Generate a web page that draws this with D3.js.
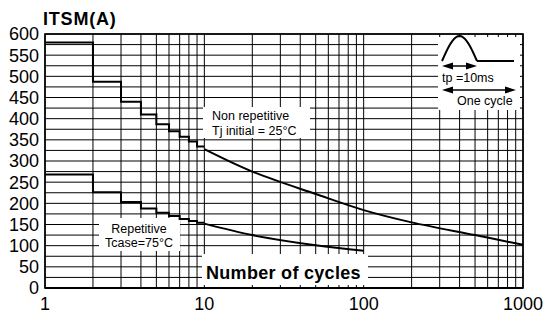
<!DOCTYPE html>
<html>
<head>
<meta charset="utf-8">
<title>ITSM vs number of cycles</title>
<style>
  body { margin: 0; background: #fff; }
  svg { display: block; font-family: "Liberation Sans", Arial, Helvetica, sans-serif; }
  .grid line { stroke: #000; stroke-width: 1; }
  .frame { fill: none; stroke: #000; stroke-width: 1.6; }
  .curve { fill: none; stroke: #000; stroke-width: 2; }
  .tick-label { font-size: 18px; fill: #000; }
  .note { font-size: 12.5px; fill: #000; }
</style>
</head>
<body>
<div id="chart"></div>
<script src="https://d3js.org/d3.v7.min.js"></script>
<script>
  // values
  var stepCycles  = [1, 2, 3, 4, 5, 6, 7, 8, 9, 10];
  var nonRepSteps = [580, 487, 440, 410, 387, 370, 357, 346, 334, 334];
  var repSteps    = [268, 226, 203, 188, 178, 170, 163, 158, 154, 154];

  var nonRepCycles = [10, 20, 50, 100, 200, 500, 1000];
  var nonRepCurve  = [328, 275, 222, 184, 155, 125, 102];
  var repCycles    = [10, 20, 50, 100];
  var repCurve     = [152, 125, 101, 88];

  var yTicks  = [0, 50, 100, 150, 200, 250, 300, 350, 400, 450, 500, 550, 600];
  var yGrid   = [0, 25, 50, 75, 100, 125, 150, 175, 200, 225, 250, 275, 300, 325,
                 350, 375, 400, 425, 450, 475, 500, 525, 550, 575, 600];
  var xTicks  = [1, 10, 100, 1000];
  var xGrid   = [1, 2, 3, 4, 5, 6, 7, 8, 9, 10, 20, 30, 40, 50, 60, 70, 80, 90,
                 100, 200, 300, 400, 500, 600, 700, 800, 900, 1000];

  var width = 544, height = 316;
  var margin = {top: 34, right: 21, bottom: 28, left: 45};
  var w = width - margin.left - margin.right,
      h = height - margin.top - margin.bottom;

  var svg = d3.select("#chart").append("svg")
      .attr("width", width).attr("height", height);

  var x = d3.scaleLog().domain([1, 1000]).range([margin.left, margin.left + w]);
  var y = d3.scaleLinear().domain([0, 600]).range([margin.top + h, margin.top]);

  //  grid
  var grid = svg.append("g").attr("class", "grid");
  grid.selectAll("line.h").data(yGrid).enter().append("line").attr("class", "h")
      .attr("x1", x(1)).attr("x2", x(1000))
      .attr("y1", function (d) { return y(d); }).attr("y2", function (d) { return y(d); });
  grid.selectAll("line.v").data(xGrid).enter().append("line").attr("class", "v")
      .attr("y1", y(0)).attr("y2", y(600))
      .attr("x1", function (d) { return x(d); }).attr("x2", function (d) { return x(d); });

  //  white label boxes (stop a bit short of the frame, so grid stubs show)
  function box(x0, y0, x1, y1) {
    svg.append("rect").attr("x", x0).attr("y", y0)
       .attr("width", x1 - x0).attr("height", y1 - y0).attr("fill", "#fff");
  }
  box(203, 107, 310, 138);
  box(99, 218, 180, 251);
  box(202, 254, 368, 285);
  box(438, 37, 520, 110);

  //  curves
  var stepLine = d3.line()
      .x(function (d) { return x(d[0]); })
      .y(function (d) { return y(d[1]); })
      .curve(d3.curveStepAfter);
  var smoothLine = d3.line()
      .x(function (d) { return x(d[0]); })
      .y(function (d) { return y(d[1]); })
      .curve(d3.curveCatmullRom.alpha(0.5));

  svg.append("path").attr("class", "curve").attr("d", stepLine(d3.zip(stepCycles, nonRepSteps)));
  svg.append("path").attr("class", "curve").attr("d", stepLine(d3.zip(stepCycles, repSteps)));
  svg.append("path").attr("class", "curve").attr("d", smoothLine(d3.zip(nonRepCycles, nonRepCurve)));
  svg.append("path").attr("class", "curve").attr("d", smoothLine(d3.zip(repCycles, repCurve)));

  //  frame
  svg.append("rect").attr("class", "frame")
      .attr("x", x(1)).attr("y", y(600))
      .attr("width", x(1000) - x(1)).attr("height", y(0) - y(600));
  svg.append("line").attr("x1", x(1)).attr("x2", x(1000))
      .attr("y1", y(0)).attr("y2", y(0))
      .attr("stroke", "#000").attr("stroke-width", 2.2);

  //  tick labels
  svg.selectAll("text.yl").data(yTicks).enter().append("text")
      .attr("class", "tick-label yl")
      .attr("x", 39).attr("y", function (d) { return y(d); })
      .attr("dy", "0.36em").attr("text-anchor", "end")
      .text(function (d) { return d; });
  svg.selectAll("text.xl").data(xTicks).enter().append("text")
      .attr("class", "tick-label xl")
      .attr("x", function (d) { return x(d); }).attr("y", 310)
      .attr("text-anchor", "middle")
      .text(d3.format("d"));

  svg.append("text").attr("x", 43).attr("y", 25)
      .attr("font-size", 18).attr("font-weight", "bold")
      .attr("letter-spacing", 0.8)
      .text("ITSM(A)");

  svg.append("text").attr("x", 206).attr("y", 279)
      .attr("font-size", 18).attr("font-weight", "bold")
      .attr("letter-spacing", 0.3)
      .text("Number of cycles");

  //  curve notes
  svg.append("text").attr("class", "note").attr("x", 212).attr("y", 120).text("Non repetitive");
  svg.append("text").attr("class", "note").attr("x", 212).attr("y", 134.5).text("Tj initial = 25°C");
  svg.append("text").attr("class", "note").attr("x", 139).attr("y", 232.5)
      .attr("text-anchor", "middle").text("Repetitive");
  svg.append("text").attr("class", "note").attr("x", 139).attr("y", 247)
      .attr("text-anchor", "middle").text("Tcase=75°C");

  //  pulse inset
  var inset = svg.append("g").attr("transform", "translate(442,36)");
  var pulse = d3.range(0, 1.0001, 0.05).map(function (t) {
    return [t * 35, 25 - 25 * Math.sin(Math.PI * t)];
  });
  inset.append("path").attr("d", d3.line()(pulse))
      .attr("fill", "none").attr("stroke", "#000").attr("stroke-width", 2);
  inset.append("line").attr("x1", 35).attr("x2", 72).attr("y1", 25).attr("y2", 25)
      .attr("stroke", "#000").attr("stroke-width", 2);

  function dblArrow(g, x0, x1, yy) {
    g.append("line").attr("x1", x0 + 6).attr("x2", x1 - 6).attr("y1", yy).attr("y2", yy)
        .attr("stroke", "#000").attr("stroke-width", 1.5);
    g.append("path").attr("d", "M" + x0 + "," + yy + "l11,-3.5v7z");
    g.append("path").attr("d", "M" + x1 + "," + yy + "l-11,-3.5v7z");
  }
  dblArrow(inset, 0, 35, 30);
  dblArrow(inset, 0, 74, 54);
  inset.append("text").attr("class", "note").attr("font-size", 13.5).attr("x", 0).attr("y", 46).text("tp =10ms");
  inset.append("text").attr("class", "note").attr("font-size", 13.5).attr("x", 15).attr("y", 69).text("One cycle");
</script>
</body>
</html>
